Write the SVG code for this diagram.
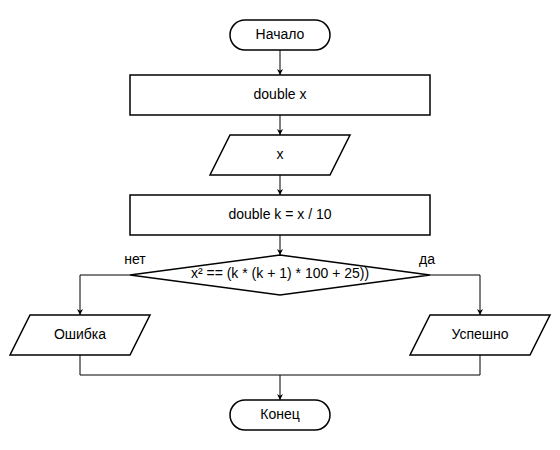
<svg xmlns="http://www.w3.org/2000/svg" width="560" height="450" viewBox="0 0 560 450">
<style>
.s{fill:#fff;stroke:#000;stroke-width:1.5}
.c{fill:none;stroke:#000;stroke-width:1}
text{font-family:"Liberation Sans",Arial,sans-serif;font-size:14px;fill:#000;text-anchor:middle;dominant-baseline:central}
</style>
<defs>
<marker id="a" viewBox="0 0 10 10" refX="10" refY="5" markerWidth="6" markerHeight="6" markerUnits="userSpaceOnUse" orient="auto">
<path d="M0,0 L10,5 L0,10 L3,5 Z" fill="#000"/>
</marker>
</defs>
<rect width="560" height="450" fill="#fff"/>
<g id="connectors">
<path class="c" d="M280,50 V75" marker-end="url(#a)"/>
<path class="c" d="M280,115 V135" marker-end="url(#a)"/>
<path class="c" d="M280,175 V195" marker-end="url(#a)"/>
<path class="c" d="M280,235 V255" marker-end="url(#a)"/>
<path class="c" d="M130,275 H80 V315" marker-end="url(#a)"/>
<path class="c" d="M430,275 H480 V315" marker-end="url(#a)"/>
<path class="c" d="M80,355 V375 H480 V355"/>
<path class="c" d="M280,375 V400" marker-end="url(#a)"/>
<text x="135" y="259">нет</text>
<text x="427" y="259">да</text>
</g>
<g id="start"><rect class="s" x="230" y="20" width="100" height="30" rx="15"/><text x="280" y="34">Начало</text></g>
<g id="decl"><rect class="s" x="130" y="75" width="300" height="40"/><text x="280" y="94">double x</text></g>
<g id="input"><polygon class="s" points="230,135 350,135 330,175 210,175"/><text x="280" y="154">x</text></g>
<g id="calc"><rect class="s" x="130" y="195" width="300" height="40"/><text x="280" y="214">double k = x / 10</text></g>
<g id="cond"><polygon class="s" points="280,255 430,275 280,295 130,275"/><text x="280" y="273">x² == (k * (k + 1) * 100 + 25))</text></g>
<g id="err"><polygon class="s" points="30,315 150,315 130,355 10,355"/><text x="80" y="334">Ошибка</text></g>
<g id="ok"><polygon class="s" points="430,315 550,315 530,355 410,355"/><text x="480" y="334">Успешно</text></g>
<g id="end"><rect class="s" x="230" y="400" width="100" height="30" rx="15"/><text x="280" y="414">Конец</text></g>
</svg>
